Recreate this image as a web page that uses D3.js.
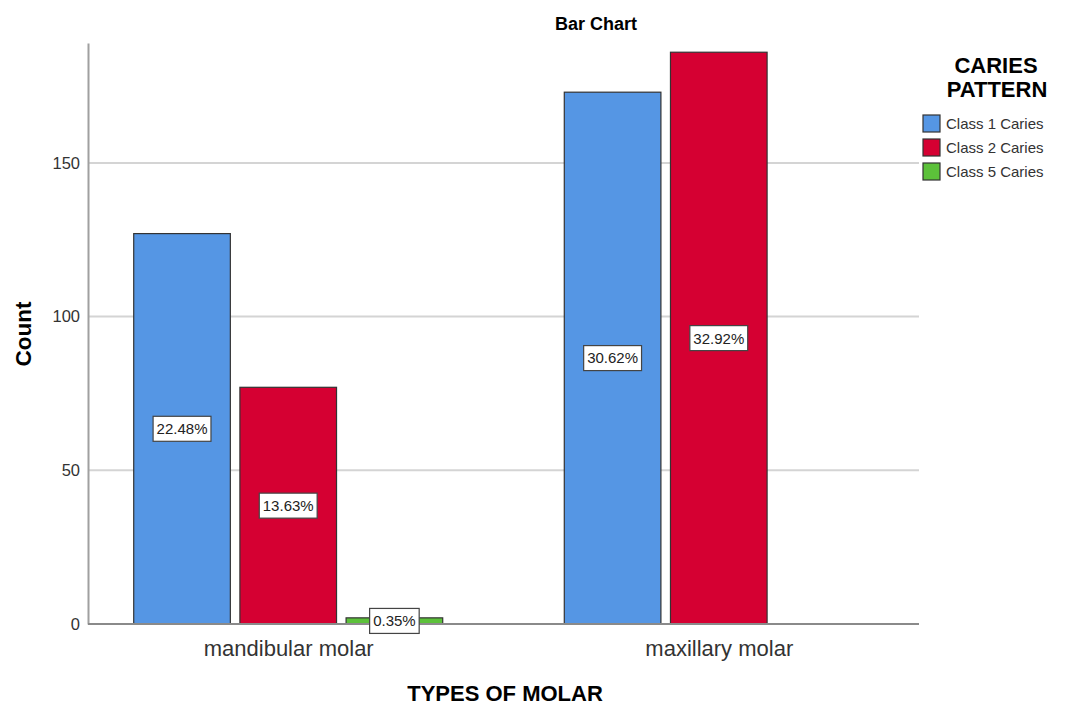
<!DOCTYPE html>
<html><head><meta charset="utf-8">
<script src="https://cdn.jsdelivr.net/npm/d3@7"></script>
<style>
body{margin:0;background:#fff;}
text{font-family:"Liberation Sans",Arial,sans-serif;}
</style></head>
<body><svg id="c" width="1072" height="706"></svg>
<script>
const categories = ["mandibular molar", "maxillary molar"];
const seriesNames = ["Class 1 Caries", "Class 2 Caries", "Class 5 Caries"];
const class1 = [127, 173];
const class2 = [77, 186];
const class5 = [2, 0];
const pctLabels = [["22.48%", "30.62%"], ["13.63%", "32.92%"], ["0.35%", null]];
const yTicks = [0, 50, 100, 150];
const colors = ["#5596E4", "#D50032", "#5CC13A"];

const values = [class1, class2, class5];
const svg = d3.select("#c");
const plotLeft = 88, plotRight = 919, plotTop = 43, plotBottom = 624;

const y = d3.scaleLinear().domain([0, 189]).range([plotBottom, plotTop]);
const x = d3.scalePoint().domain(categories).range([plotLeft, plotRight]).padding(0.465);
const xs = d3.scaleBand().domain(seriesNames).range([-154.5, 154.5]).paddingInner(0.09).paddingOuter(0);

// gridlines
svg.append("g").selectAll("line").data(yTicks.filter(d => d > 0)).join("line")
  .attr("x1", plotLeft).attr("x2", plotRight).attr("y1", d => y(d)).attr("y2", d => y(d))
  .attr("stroke", "#d4d4d4").attr("stroke-width", 2);

// y axis
const yAxis = svg.append("g").attr("transform", `translate(${plotLeft},0)`)
  .call(d3.axisLeft(y).tickValues(yTicks).tickSize(0).tickPadding(8));
yAxis.select(".domain").attr("stroke", "#a0a0a0").attr("stroke-width", 2);
yAxis.selectAll("text").attr("font-size", 16.5).attr("fill", "#333").style("font-family", "'Liberation Sans',Arial,sans-serif");

// bars
const data = [];
categories.forEach((c, i) => seriesNames.forEach((s, j) => data.push({c, s, j, v: values[j][i], lab: pctLabels[j][i]})));
const bars = data.filter(d => d.v > 0);
svg.append("g").selectAll("rect").data(bars).join("rect")
  .attr("x", d => x(d.c) + xs(d.s)).attr("width", xs.bandwidth())
  .attr("y", d => y(d.v)).attr("height", d => y(0) - y(d.v))
  .attr("fill", d => colors[d.j]).attr("stroke", "#333").attr("stroke-width", 1.2);

// x axis baseline
const xAxis = svg.append("g").attr("transform", `translate(0,${plotBottom})`)
  .call(d3.axisBottom(x).tickSize(0).tickPadding(16));
xAxis.select(".domain").attr("stroke", "#8a8a8a").attr("stroke-width", 2).attr("d", `M${plotLeft},0H${plotRight}`);
xAxis.selectAll("text").attr("font-size", 22).attr("fill", "#333").style("font-family", "'Liberation Sans',Arial,sans-serif");

// value labels
const lg = svg.append("g").selectAll("g").data(bars.filter(d => d.lab)).join("g")
  .attr("transform", d => `translate(${x(d.c) + xs(d.s) + xs.bandwidth()/2},${y(d.v/2)})`);
const lbox = lg.append("rect").attr("fill", "#fff").attr("stroke", "#444").attr("stroke-width", 1.2);
const ltxt = lg.append("text").attr("text-anchor", "middle").attr("dy", "0.36em").attr("font-size", 15).attr("fill", "#222")
  .text(d => d.lab);
ltxt.each(function() {
  const w = this.getComputedTextLength();
  d3.select(this.parentNode).select("rect")
    .attr("x", -w / 2 - 3.5).attr("width", w + 7).attr("y", -12.5).attr("height", 25);
});

// titles
svg.append("text").attr("x", 596).attr("y", 30).attr("text-anchor", "middle")
  .attr("font-size", 18).attr("font-weight", "bold").text("Bar Chart");
svg.append("text").attr("transform", "translate(31,334) rotate(-90)").attr("text-anchor", "middle")
  .attr("font-size", 22.5).attr("font-weight", "bold").text("Count");
svg.append("text").attr("x", 505).attr("y", 701).attr("text-anchor", "middle")
  .attr("font-size", 22).attr("font-weight", "bold").text("TYPES OF MOLAR");

// legend
svg.append("text").attr("x", 996).attr("y", 73).attr("text-anchor", "middle")
  .attr("font-size", 22).attr("font-weight", "bold").text("CARIES");
svg.append("text").attr("x", 997).attr("y", 97).attr("text-anchor", "middle")
  .attr("font-size", 22).attr("font-weight", "bold").text("PATTERN");
const leg = svg.append("g").selectAll("g").data(seriesNames).join("g")
  .attr("transform", (d, i) => `translate(923,${115 + i * 24})`);
leg.append("rect").attr("width", 17).attr("height", 17).attr("fill", (d, i) => colors[i])
  .attr("stroke", "#333").attr("stroke-width", 1.2);
leg.append("text").attr("x", 23).attr("y", 8.5).attr("dy", "0.36em").attr("font-size", 15).attr("fill", "#333").text(d => d);
</script></body></html>
